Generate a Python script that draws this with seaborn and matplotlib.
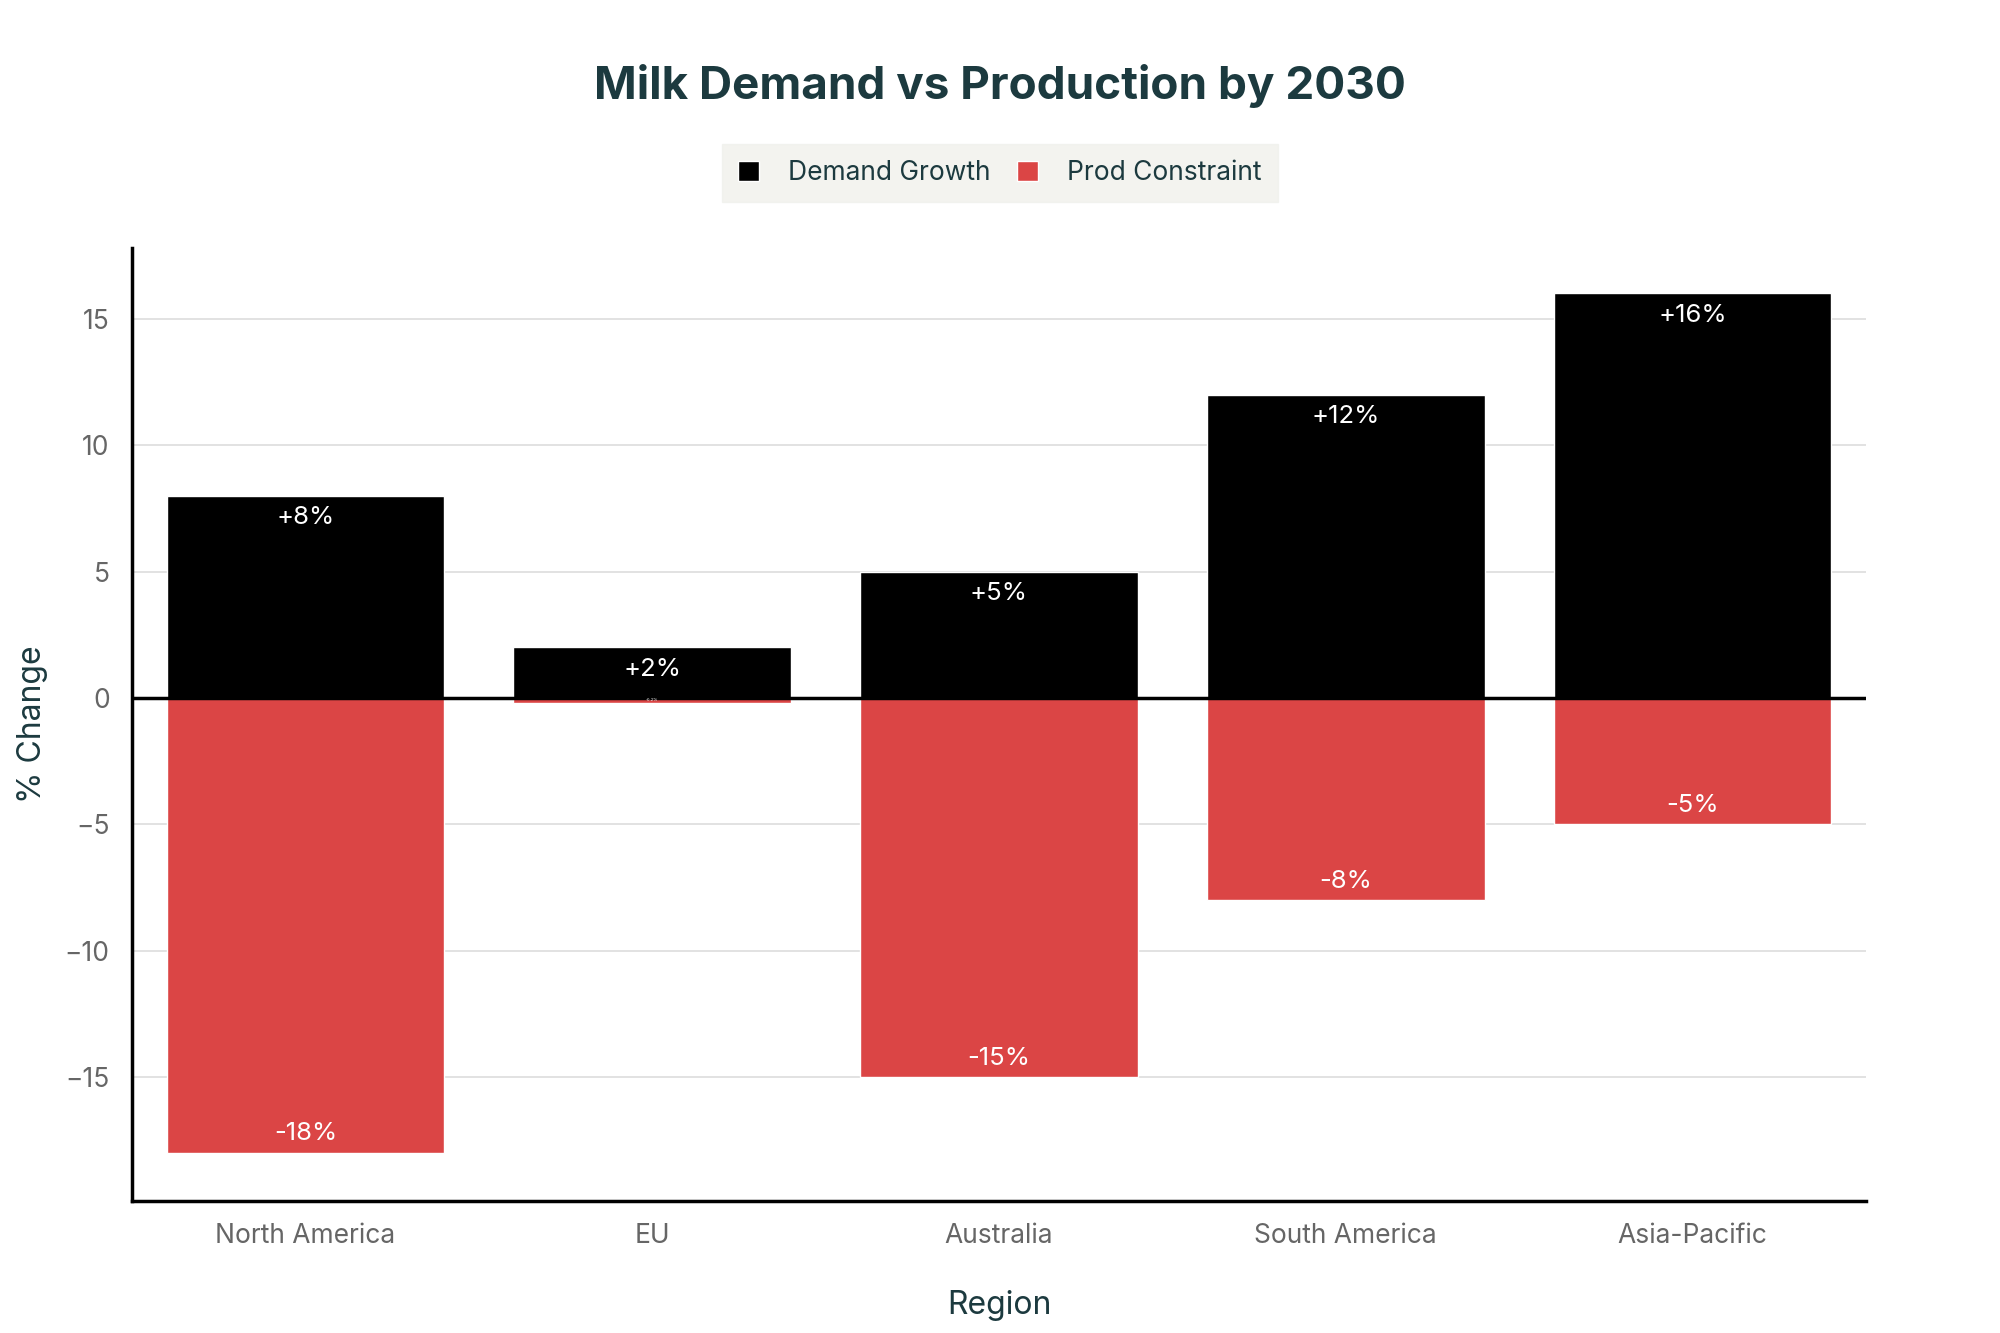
import matplotlib.pyplot as plt
import seaborn as sns
import pandas as pd

# Данные графика
regions = ["North America", "EU", "Australia", "South America", "Asia-Pacific"]
demand_growth = [8, 2, 5, 12, 16]
prod_constraint = [-18, -0.2, -15, -8, -5]
demand_labels = ["+8%", "+2%", "+5%", "+12%", "+16%"]
prod_labels = ["-18%", "-0.2%", "-15%", "-8%", "-5%"]

series_names = ["Demand Growth", "Prod Constraint"]
colors = {"Demand Growth": "#000000", "Prod Constraint": "#DB4545"}

df = pd.DataFrame({
    "Region": regions * 2,
    "Value": demand_growth + prod_constraint,
    "Series": [series_names[0]] * len(regions) + [series_names[1]] * len(regions),
})

sns.set_theme(style="white")
plt.rcParams['font.family'] = ['Inter', 'DejaVu Sans']

teal = "#1c3a3f"

fig, ax = plt.subplots(figsize=(20, 13.33), dpi=100)
fig.subplots_adjust(left=0.066, right=0.933, top=0.814, bottom=0.099)

sns.barplot(data=df, x="Region", y="Value", hue="Series", order=regions,
            hue_order=series_names, palette=colors, dodge=False, width=0.8,
            ax=ax, zorder=3, saturation=1)

# Подписи внутри столбцов
for i, container in enumerate(ax.containers):
    labels = demand_labels if i == 0 else prod_labels
    for bar, lab in zip(container, labels):
        h = bar.get_height()
        x = bar.get_x() + bar.get_width() / 2
        if abs(h) < 1:
            ax.text(x, h / 2, lab, ha="center", va="center", color="white",
                    fontsize=3, zorder=5)
        elif h > 0:
            ax.text(x, h - 0.42, lab, ha="center", va="top", color="white",
                    fontsize=18.5, zorder=5)
        else:
            ax.text(x, h + 0.3, lab, ha="center", va="bottom", color="white",
                    fontsize=18.5, zorder=5)

ax.set_xlim(-0.5, 4.5)
ax.set_ylim(-19.9, 17.8)
ax.set_yticks([-15, -10, -5, 0, 5, 10, 15])
ax.set_yticklabels(["\u221215", "\u221210", "\u22125", "0", "5", "10", "15"])
ax.yaxis.grid(True, color="#dddddd", linewidth=1.2, zorder=0)
ax.axhline(0, color="black", linewidth=2.5, zorder=4)

for s in ["top", "right"]:
    ax.spines[s].set_visible(False)
for s in ["left", "bottom"]:
    ax.spines[s].set_color("black")
    ax.spines[s].set_linewidth(2.5)

ax.tick_params(axis="both", colors="#dddddd", labelcolor="#666666",
               labelsize=19, length=8, width=1.2, direction="out", pad=8)

ax.set_xlabel("Region", fontsize=23, color=teal, labelpad=29)
ax.set_ylabel("% Change", fontsize=23, color=teal, labelpad=12)

fig.suptitle("Milk Demand vs Production by 2030", fontsize=33, fontweight="bold",
             color=teal, y=0.952)

leg = ax.legend(loc="center", bbox_to_anchor=(0.5, 0.870), bbox_transform=fig.transFigure,
                ncol=2, frameon=True, fontsize=19, handlelength=0.8, handleheight=0.8,
                columnspacing=1.0, handletextpad=1.1, borderpad=0.6)
leg.get_frame().set_facecolor("#f0f1ec")
leg.get_frame().set_edgecolor("#f0f1ec")
leg.get_frame().set_boxstyle("square", pad=0)
for t in leg.get_texts():
    t.set_color(teal)

plt.savefig("out.png", dpi=100)
plt.close()
